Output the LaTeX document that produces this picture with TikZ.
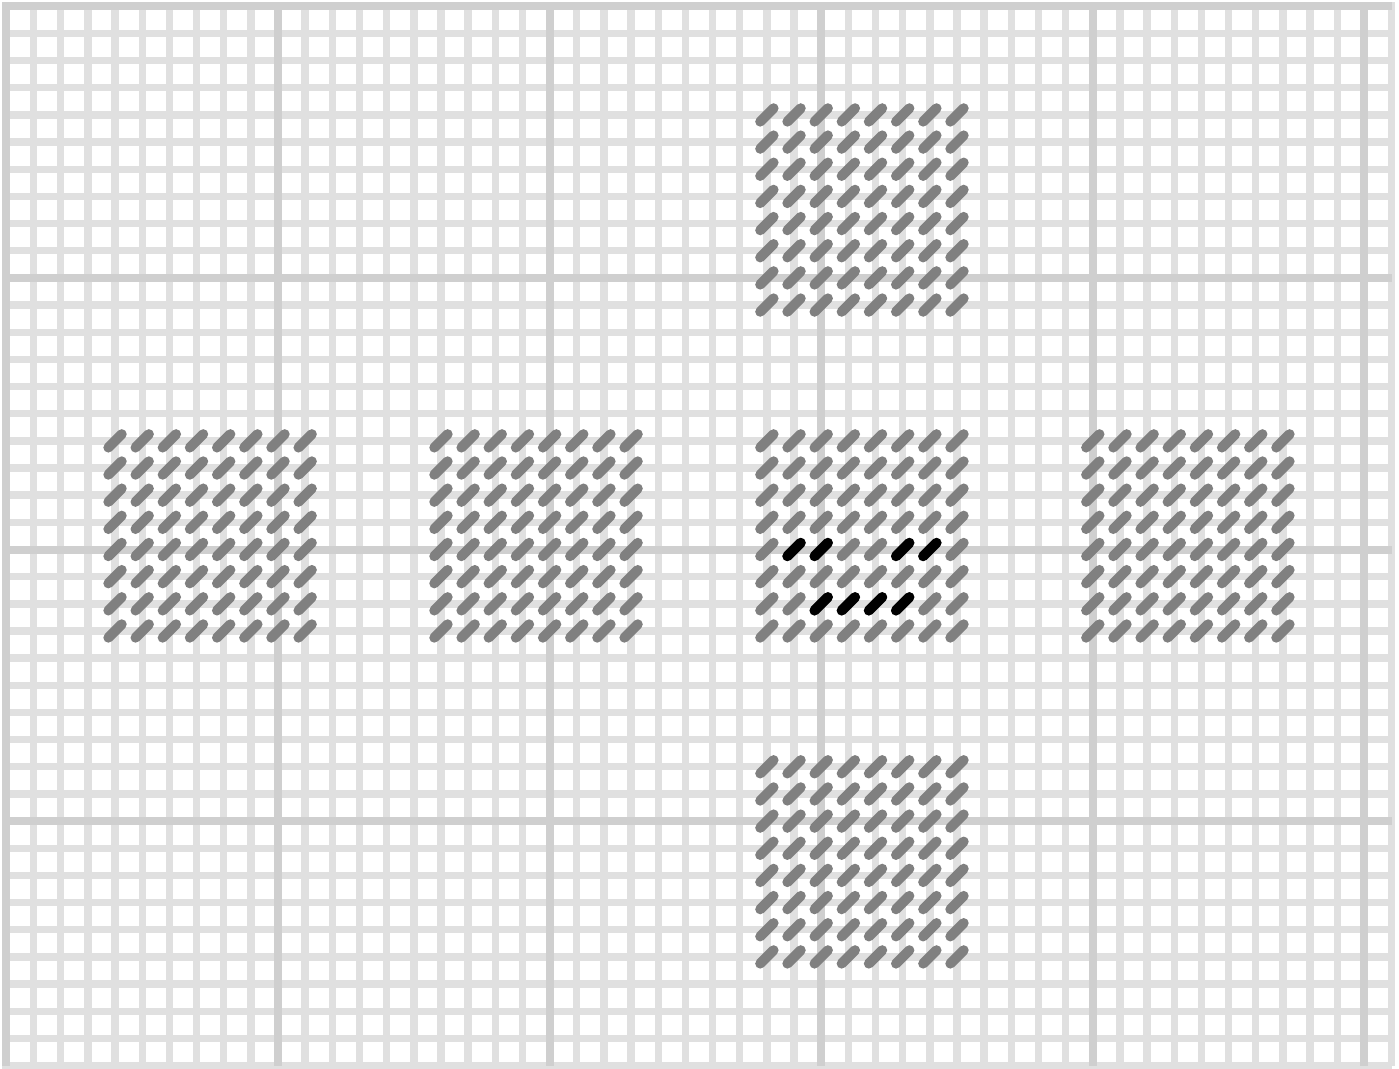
\documentclass[tikz,border=0pt]{standalone}
\begin{document}
\begin{tikzpicture}[x=1pt,y=-1pt,
  minorline/.style={line width=7.4pt, color=black!12},
  majorline/.style={line width=8pt, color=black!19},
  stitchgray/.style={line width=10pt, line cap=round, color=black!50},
  stitchblack/.style={stitchgray, color=black}]
\useasboundingbox (0,0) rectangle (1399,1068);
\fill[white] (0,0) rectangle (1399,1068);
\def\p{27.16}
\def\ox{6.4}
\def\oy{6.3}
% minor canvas threads
\foreach \k in {0,...,51} \draw[minorline] ({\ox+\k*\p},2.3) -- ({\ox+\k*\p},1065.6);
\foreach \k in {0,...,39} \draw[minorline] (2.3,{\oy+\k*\p}) -- (1391.6,{\oy+\k*\p});
% major canvas threads
\foreach \k in {0,10,...,50} \draw[majorline] ({\ox+\k*\p},2.3) -- ({\ox+\k*\p},1065.6);
\foreach \k in {0,10,...,30} \draw[majorline] (2.3,{\oy+\k*\p}) -- (1391.6,{\oy+\k*\p});
% gray stitch blocks (8 x 8)
\foreach \bx/\by in {4/16,16/16,28/16,40/16,28/4,28/28}
  \foreach \i in {0,...,7}
    \foreach \j in {0,...,7}
      \draw[stitchgray] ({\ox+(\bx+\i)*\p-6.7},{\oy+(\by+\j)*\p+6.7}) -- ++(13.4,-13.4);
% black stitches
\foreach \cx/\cy in {29/20,30/20,33/20,34/20,30/22,31/22,32/22,33/22}
  \draw[stitchblack] ({\ox+\cx*\p-6.7},{\oy+\cy*\p+6.7}) -- ++(13.4,-13.4);
\end{tikzpicture}
\end{document}
